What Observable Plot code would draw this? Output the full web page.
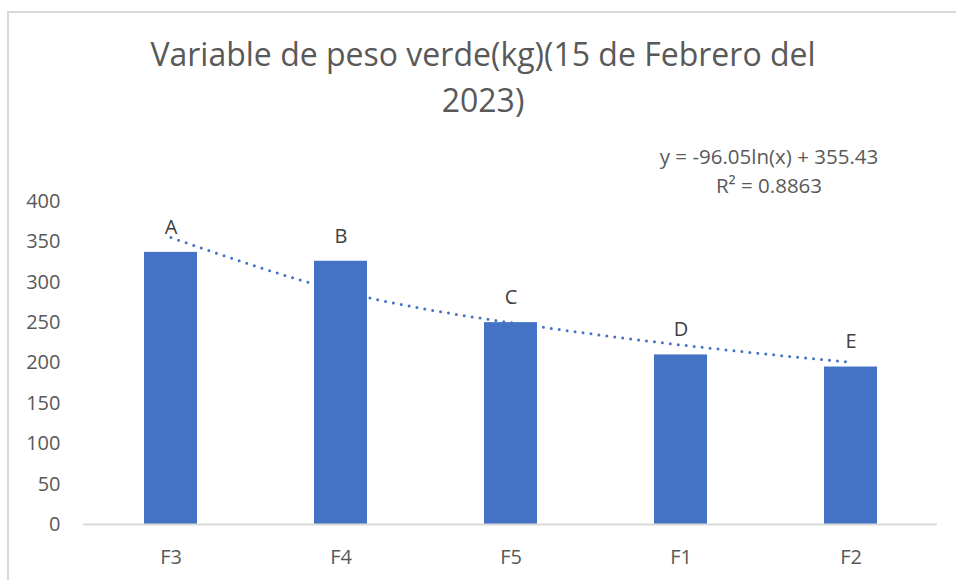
<!DOCTYPE html>
<html>
<head>
<meta charset="utf-8">
<script src="https://cdn.jsdelivr.net/npm/d3@7"></script>
<script src="https://cdn.jsdelivr.net/npm/@observablehq/plot@0.6"></script>
<style>
  html, body { margin: 0; padding: 0; background: #fff; width: 956px; height: 580px; overflow: hidden; }
  body { position: relative; font-family: "Open Sans", sans-serif; }
  #frame { position: absolute; left: 7px; top: 11px; width: 970px; height: 600px; border: 2px solid #D9D9D9; box-sizing: border-box; }
  #title { position: absolute; left: 0; top: 31px; width: 966px; text-align: center; font-size: 32px; line-height: 46px; color: #595959; }
  #eq { position: absolute; left: 619px; top: 142px; width: 300px; text-align: center; font-size: 20.5px; line-height: 29px; color: #595959; }
  #chart { position: absolute; left: 0; top: 140px; }
</style>
</head>
<body>
<div id="frame"></div>
<div id="title">Variable de peso verde(kg)(15 de Febrero del<br>2023)</div>
<div id="eq">y = -96.05ln(x) + 355.43<br>R² = 0.8863</div>
<div id="chart"></div>
<script>
const categories = ["F3", "F4", "F5", "F1", "F2"];
const values = [337, 326, 250, 210, 195];
const letters = ["A", "B", "C", "D", "E"];
const trend = [355.4, 288.9, 249.9, 222.3, 200.8];
const yTicks = [0, 50, 100, 150, 200, 250, 300, 350, 400];

const data = categories.map((c, i) => ({cat: c, value: values[i], letter: letters[i], trend: trend[i]}));

const chart = Plot.plot({
  width: 956,
  height: 434,
  marginTop: 61,
  marginBottom: 50,
  marginLeft: 83,
  marginRight: 19,
  style: {fontFamily: "Open Sans, sans-serif", color: "#595959", background: "transparent"},
  x: {domain: categories, paddingInner: 0.69, paddingOuter: 0.345, label: null},
  y: {domain: [0, 400], label: null},
  marks: [
    Plot.barY(data, {x: "cat", y: "value", fill: "#4472C4"}),
    Plot.ruleY([0], {stroke: "#D9D9D9", strokeWidth: 2}),
    Plot.lineY(data, {x: "cat", y: "trend", stroke: "#4472C4", strokeWidth: 3, strokeDasharray: "0,8", strokeLinecap: "round", curve: "natural"}),
    Plot.text(data, {x: "cat", y: "value", text: "letter", dy: -25, fontSize: 20, fill: "#404040"}),
    Plot.axisY({ticks: yTicks, tickSize: 0, tickPadding: 23, fontSize: 20, label: null}),
    Plot.axisX({tickSize: 0, tickPadding: 25, fontSize: 20, label: null})
  ]
});
document.getElementById("chart").appendChild(chart);
</script>
</body>
</html>
